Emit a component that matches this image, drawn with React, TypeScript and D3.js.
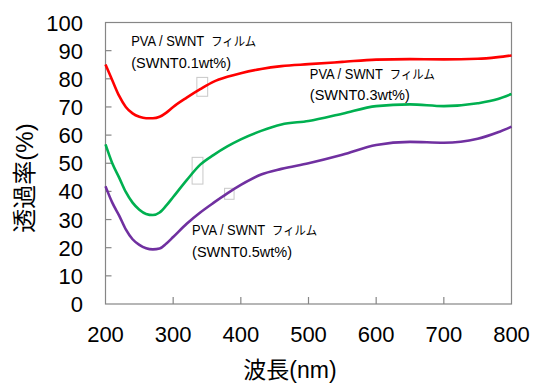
import React from 'react';
import * as d3 from 'd3';

const wavelengths = [200, 210, 220, 230, 240, 250, 260, 270, 280, 290, 300, 320, 340, 360, 380, 400, 430, 460, 500, 550, 600, 650, 700, 750, 780, 800];
const film01 = [85.1, 79.5, 74, 70, 67.7, 66.5, 66, 66, 66.5, 68, 70, 73.3, 76.3, 79, 80.7, 82, 83.5, 84.5, 85.2, 86, 86.8, 87, 86.9, 87.1, 87.7, 88.3];
const film03 = [56.7, 50, 45, 39.8, 36, 33.5, 32, 31.6, 32.5, 35, 38, 44, 49.5, 53, 56, 58.5, 61.5, 63.8, 65, 67.6, 70.3, 70.9, 70.3, 71.3, 72.8, 74.6];
const film05 = [41.8, 36, 31.5, 26.5, 23, 21, 19.8, 19.4, 19.7, 21.5, 23.8, 28.5, 32.5, 36, 39.3, 42.3, 46, 48, 50, 53, 56.5, 57.6, 57.3, 58.7, 61, 63];

const xTicks = [200, 300, 400, 500, 600, 700, 800];
const yTicks = [0, 10, 20, 30, 40, 50, 60, 70, 80, 90, 100];

const series = [
  { name: 'SWNT0.1wt%', values: film01, color: '#ff0000' },
  { name: 'SWNT0.3wt%', values: film03, color: '#00b050' },
  { name: 'SWNT0.5wt%', values: film05, color: '#7030a0' },
];

// label anchor in data units: nm, % of first line, % of second line
const labels = [
  { nm: 238, y1: 91.8, y2: 83.7, text: '(SWNT0.1wt%)' },
  { nm: 502, y1: 80.1, y2: 72.3, text: '(SWNT0.3wt%)' },
  { nm: 328, y1: 24.5, y2: 16.7, text: '(SWNT0.5wt%)' },
];

// faint leftover boxes in the original figure, data units
const boxes = [
  { x0: 335, x1: 351, y0: 80.5, y1: 73.8 },
  { x0: 328, x1: 344, y0: 52.1, y1: 42.6 },
  { x0: 376, x1: 390, y0: 41.1, y1: 37.2 },
];

const width = 533;
const height = 383;
const margin = { top: 22.5, right: 21.5, bottom: 79, left: 105.5 };

const font = '"Liberation Sans", Arial, "Noto Sans CJK JP", sans-serif';

export default function App() {
  const x = d3.scaleLinear().domain([200, 800]).range([margin.left, width - margin.right]);
  const y = d3.scaleLinear().domain([0, 100]).range([height - margin.bottom, margin.top]);

  const line = d3.line<number>()
    .x((_, i) => x(wavelengths[i]))
    .y(d => y(d))
    .curve(d3.curveMonotoneX);

  const axisColor = '#868686';

  return (
    <div style={{ position: 'fixed', left: 0, top: 0, background: '#fff' }}>
      <svg width={width} height={height} style={{ display: 'block' }}>
        <rect width={width} height={height} fill="#fff" />

        {/* frame */}
        <rect
          x={x(200)} y={y(100)}
          width={x(800) - x(200)} height={y(0) - y(100)}
          fill="none" stroke={axisColor} strokeWidth={1.2}
        />

        {/* ticks */}
        {yTicks.slice(1, -1).map(t => (
          <line key={'yt' + t} x1={x(200)} x2={x(200) + 6} y1={y(t)} y2={y(t)} stroke={axisColor} strokeWidth={1.2} />
        ))}
        {xTicks.slice(1, -1).map(t => (
          <line key={'xt' + t} x1={x(t)} x2={x(t)} y1={y(0)} y2={y(0) - 7} stroke={axisColor} strokeWidth={1.2} />
        ))}

        {/* tick labels */}
        {yTicks.map(t => (
          <text key={'yl' + t} x={83} y={y(t) + 8} textAnchor="end" fontFamily={font} fontSize={22} fill="#000">{t}</text>
        ))}
        {xTicks.map(t => (
          <text key={'xl' + t} x={x(t)} y={342} textAnchor="middle" fontFamily={font} fontSize={22} fill="#000">{t}</text>
        ))}

        {/* axis titles */}
        <text x={290} y={378} textAnchor="middle" fontFamily={font} fontSize={23} fill="#000">波長(nm)</text>
        <text transform="translate(33,178) rotate(-90)" textAnchor="middle" fontFamily={font} fontSize={24} fill="#000">透過率(%)</text>

        {boxes.map((b, i) => (
          <rect key={'b' + i} x={x(b.x0)} y={y(b.y0)} width={x(b.x1) - x(b.x0)} height={y(b.y1) - y(b.y0)}
            fill="none" stroke="#c8c8c8" strokeWidth={1} />
        ))}

        {series.map(s => (
          <path key={s.name} d={line(s.values) || ''} fill="none" stroke={s.color} strokeWidth={2.6} strokeLinejoin="round" />
        ))}

        {labels.map(l => (
          <g key={l.text} fontFamily={font} fill="#000">
            <text x={x(l.nm)} y={y(l.y1)} fontSize={14.5} textLength={73} lengthAdjust="spacingAndGlyphs">PVA / SWNT</text>
            <text x={x(l.nm) + 80} y={y(l.y1)} fontSize={12.5} textLength={45} lengthAdjust="spacingAndGlyphs">フィルム</text>
            <text x={x(l.nm)} y={y(l.y2)} fontSize={14.5}>{l.text}</text>
          </g>
        ))}
      </svg>
    </div>
  );
}
